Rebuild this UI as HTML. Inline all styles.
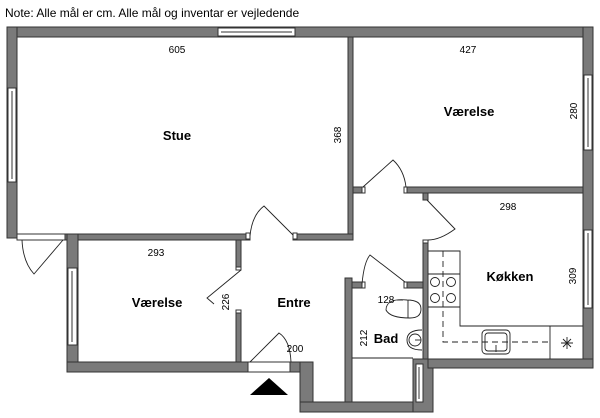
<!DOCTYPE html>
<html><head><meta charset="utf-8"><style>
html,body{margin:0;padding:0;background:#fff;}
svg{display:block;}
text{font-family:"Liberation Sans",sans-serif;fill:#000;}
.b{font-weight:bold;font-size:13px;}
.d{font-size:10px;}
</style></head><body>
<svg width="600" height="418" viewBox="0 0 600 418" xmlns="http://www.w3.org/2000/svg">
<text x="5" y="17" style="font-size:12px">Note: Alle mål er cm. Alle mål og inventar er vejledende</text>
<g fill="#7a7a7a" stroke="#333" stroke-width="1">
<!-- top outer wall -->
<rect x="7" y="27" width="586" height="10"/>
<!-- left outer wall -->
<rect x="7" y="27" width="10" height="211"/>
<!-- right outer wall -->
<rect x="583" y="27" width="10" height="341"/>
<!-- Stue/Værelse divider -->
<rect x="348" y="37" width="5" height="203"/>
<!-- horizontal wall right -->
<rect x="353" y="187" width="9" height="6"/>
<rect x="407" y="187" width="176" height="6"/>
<rect x="423" y="193" width="5" height="7"/>
<!-- Stue bottom wall -->
<rect x="65" y="234" width="185" height="6"/>
<rect x="293" y="234" width="60" height="6"/>
<!-- Værelse left wall -->
<rect x="67" y="234" width="11" height="138"/>
<!-- Værelse right wall -->
<rect x="236" y="240" width="5" height="30"/>
<rect x="236" y="310" width="5" height="52"/>
<!-- Værelse bottom -->
<rect x="67" y="362" width="181" height="10"/>
<!-- entry right -->
<rect x="290" y="362" width="23" height="10"/>
<rect x="300" y="362" width="13" height="50"/>
<rect x="300" y="402" width="133" height="10"/>
<!-- Bad left wall -->
<rect x="345" y="278" width="7" height="124"/>
<!-- Bad top wall -->
<rect x="352" y="282" width="10" height="6"/>
<rect x="407" y="282" width="16" height="6"/>
<!-- kitchen left wall -->
<rect x="423" y="243" width="5" height="125"/>
<rect x="413" y="359" width="20" height="53"/>
<!-- kitchen bottom -->
<rect x="428" y="359" width="165" height="9"/>
</g>
<g fill="#fff" stroke="#333" stroke-width="1">
<!-- windows -->
<rect x="218" y="28" width="77" height="8"/><line x1="221" y1="32" x2="292" y2="32"/>
<rect x="8" y="88" width="8" height="94"/><line x1="12" y1="91" x2="12" y2="179"/>
<rect x="584" y="75" width="8" height="75"/><line x1="588" y1="78" x2="588" y2="147"/>
<rect x="584" y="230" width="8" height="78"/><line x1="588" y1="233" x2="588" y2="305"/>
<rect x="68" y="268" width="9" height="77"/><line x1="72" y1="271" x2="72" y2="342"/>
<rect x="416" y="364" width="7" height="38"/><line x1="419" y1="367" x2="419" y2="399"/>
<!-- balcony door -->
<rect x="17" y="234" width="48" height="6"/>
<rect x="248" y="362" width="42" height="10"/>
<!-- jamb stubs -->
<rect x="246" y="233" width="4" height="6"/>
<rect x="293" y="233" width="4" height="6"/>
<rect x="362" y="187" width="3" height="6"/>
<rect x="404" y="187" width="3" height="6"/>
<rect x="236" y="267" width="5" height="3"/>
<rect x="236" y="310" width="5" height="3"/>
<rect x="362" y="282" width="3" height="6"/>
<rect x="404" y="282" width="3" height="6"/>
<rect x="423" y="240" width="5" height="3"/>
</g>
<g fill="none" stroke="#222" stroke-width="0.9">
<!-- door swings -->
<path d="M250 236 Q252 215 264 206 L293 235"/>
<path d="M363 187 L393 160 Q404 170 406 187"/>
<path d="M427 200 L455 229 Q440 240 428 240"/>
<path d="M63 240 L34 274 Q23 262 22 240"/>
<path d="M241 270 L207 298 L214 304"/>
<path d="M250 362 L279 333 Q290 340 291 362"/>
<path d="M362 284 Q364 262 370 255 L405 282"/>
<!-- bad -->
<line x1="352" y1="358" x2="413" y2="358"/>
<path d="M407 300 Q386 298 386 310 Q390 318 410 318 Q421 318 421 309 Q421 300 407 300 Z"/>
<line x1="408" y1="300" x2="408" y2="318"/>
<line x1="397" y1="300" x2="403" y2="300"/>
<path d="M422 330 Q407 330 407 340 Q407 350 422 350"/>
<circle cx="415" cy="340" r="6"/>
<line x1="415" y1="340" x2="421" y2="340"/>
<!-- kitchen counters -->
<path d="M428 251 L460 251 L460 326 L583 326"/>
<line x1="428" y1="274" x2="460" y2="274"/>
<line x1="428" y1="307" x2="460" y2="307"/>
<line x1="550" y1="326" x2="550" y2="359"/>
<path d="M443 251 L443 342 L551 342" stroke-dasharray="6 4"/>
<circle cx="435" cy="282" r="4.5"/><circle cx="451" cy="282" r="4.5"/>
<circle cx="435" cy="298" r="4.5"/><circle cx="451" cy="298" r="4.5"/>
<rect x="482" y="330" width="28" height="24" rx="4"/>
<rect x="485" y="333" width="22" height="18" rx="3"/>
<line x1="496" y1="345" x2="496" y2="352"/>
<path d="M561 343 L573 343 M567 337 L567 349 M563 339 L571 347 M571 339 L563 347"/>
</g>
<polygon points="269,378 250,395 288,395" fill="#000"/>
<g class="d">
<text x="177" y="53" text-anchor="middle">605</text>
<text x="468" y="53" text-anchor="middle">427</text>
<text x="508" y="210" text-anchor="middle">298</text>
<text x="156" y="256" text-anchor="middle">293</text>
<text x="295" y="352" text-anchor="middle">200</text>
<text x="386" y="303" text-anchor="middle">128</text>
<text transform="translate(341,135) rotate(-90)" text-anchor="middle">368</text>
<text transform="translate(577,111) rotate(-90)" text-anchor="middle">280</text>
<text transform="translate(576,276) rotate(-90)" text-anchor="middle">309</text>
<text transform="translate(229,302) rotate(-90)" text-anchor="middle">226</text>
<text transform="translate(367,338) rotate(-90)" text-anchor="middle">212</text>
</g>
<g class="b">
<text x="177" y="140" text-anchor="middle">Stue</text>
<text x="469" y="116" text-anchor="middle">Værelse</text>
<text x="510" y="281" text-anchor="middle">Køkken</text>
<text x="157" y="307" text-anchor="middle">Værelse</text>
<text x="294" y="307" text-anchor="middle">Entre</text>
<text x="386" y="343" text-anchor="middle">Bad</text>
</g>
</svg>
</body></html>
